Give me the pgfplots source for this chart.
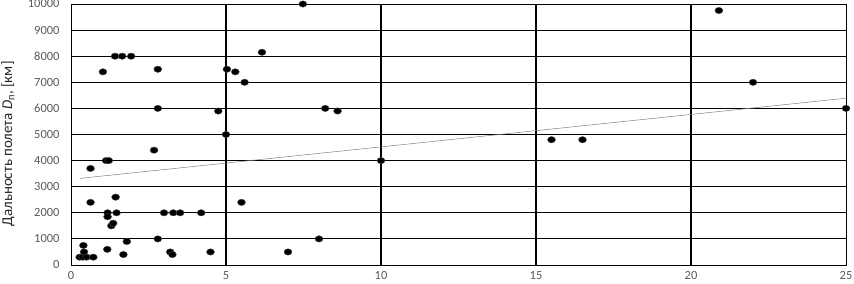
\documentclass[border=0pt]{standalone}
\usepackage{fontspec}
\setmainfont{Carlito}
\usepackage{pgfplots}
\pgfplotsset{compat=1.18}
\definecolor{ticktxt}{HTML}{595959}
\begin{document}
\begin{tikzpicture}
\begin{axis}[
  name=ax,
  scale only axis,
  width=775bp, height=261bp,
  xmin=0, xmax=25, ymin=0, ymax=10000,
  xtick={0,5,10,15,20,25},
  ytick={0,1000,...,10000},
  scaled ticks=false,
  major tick length=0pt,
  axis line style={black, line width=0.8bp},
  ymajorgrids=true,
  major grid style={black, line width=0.9bp},
  extra x ticks={5,10,15,20},
  extra x tick labels={},
  extra x tick style={xmajorgrids=true, ymajorgrids=false, major grid style={black, line width=1.6bp}},
  /pgf/number format/assume math mode=true,
  /pgf/number format/1000 sep={},
  tick label style={font=\fontsize{12.5}{14}\selectfont, text=ticktxt},
  yticklabel style={xshift=-8bp},
  xticklabel style={yshift=-3bp},
  ylabel={Дальность полета \textit{D}\textsubscript{п}, [км]},
  every axis y label/.style={at={(rel axis cs:0,0.464)}, xshift=-63bp, rotate=90, anchor=center, font=\fontsize{15}{17}\selectfont, text=black!85},
  clip=false,
]
\addplot[only marks, mark=*, mark size=3.2bp, mark options={xscale=1.25, fill=black, draw=black!70}] coordinates {
(0.28,300) (0.38,300) (0.5,300) (0.72,300) (0.42,500) (0.4,750)
(0.63,2400) (0.63,3700) (1.03,7400) (1.13,4000) (1.22,4000) (1.17,600)
(1.18,2000) (1.18,1850) (1.3,1500) (1.36,1600) (1.44,2600) (1.47,2000)
(1.42,8000) (1.65,8000) (1.94,8000) (1.69,400) (1.8,900) (2.68,4400)
(2.8,7500) (2.8,6000) (2.8,1000) (3.0,2000) (3.3,2000) (3.52,2000)
(3.2,500) (3.27,400) (4.2,2000) (4.5,500) (4.75,5900) (5.0,5000)
(5.03,7500) (5.3,7400) (5.6,7000) (5.5,2400) (6.16,8150) (7.0,500)
(7.48,10000) (8.0,1000) (8.2,6000) (8.6,5900) (10.0,4000) (15.5,4800)
(16.5,4800) (20.9,9750) (22.0,7000) (25.0,6000)
};
\addplot[gray, line width=0.5bp] coordinates {(0.28,3318) (25,6390)};
\end{axis}
\pgfresetboundingbox
\path[use as bounding box] ([xshift=-71bp,yshift=-19bp]ax.south west) rectangle ([xshift=8bp,yshift=4bp]ax.north east);
\end{tikzpicture}
\end{document}
